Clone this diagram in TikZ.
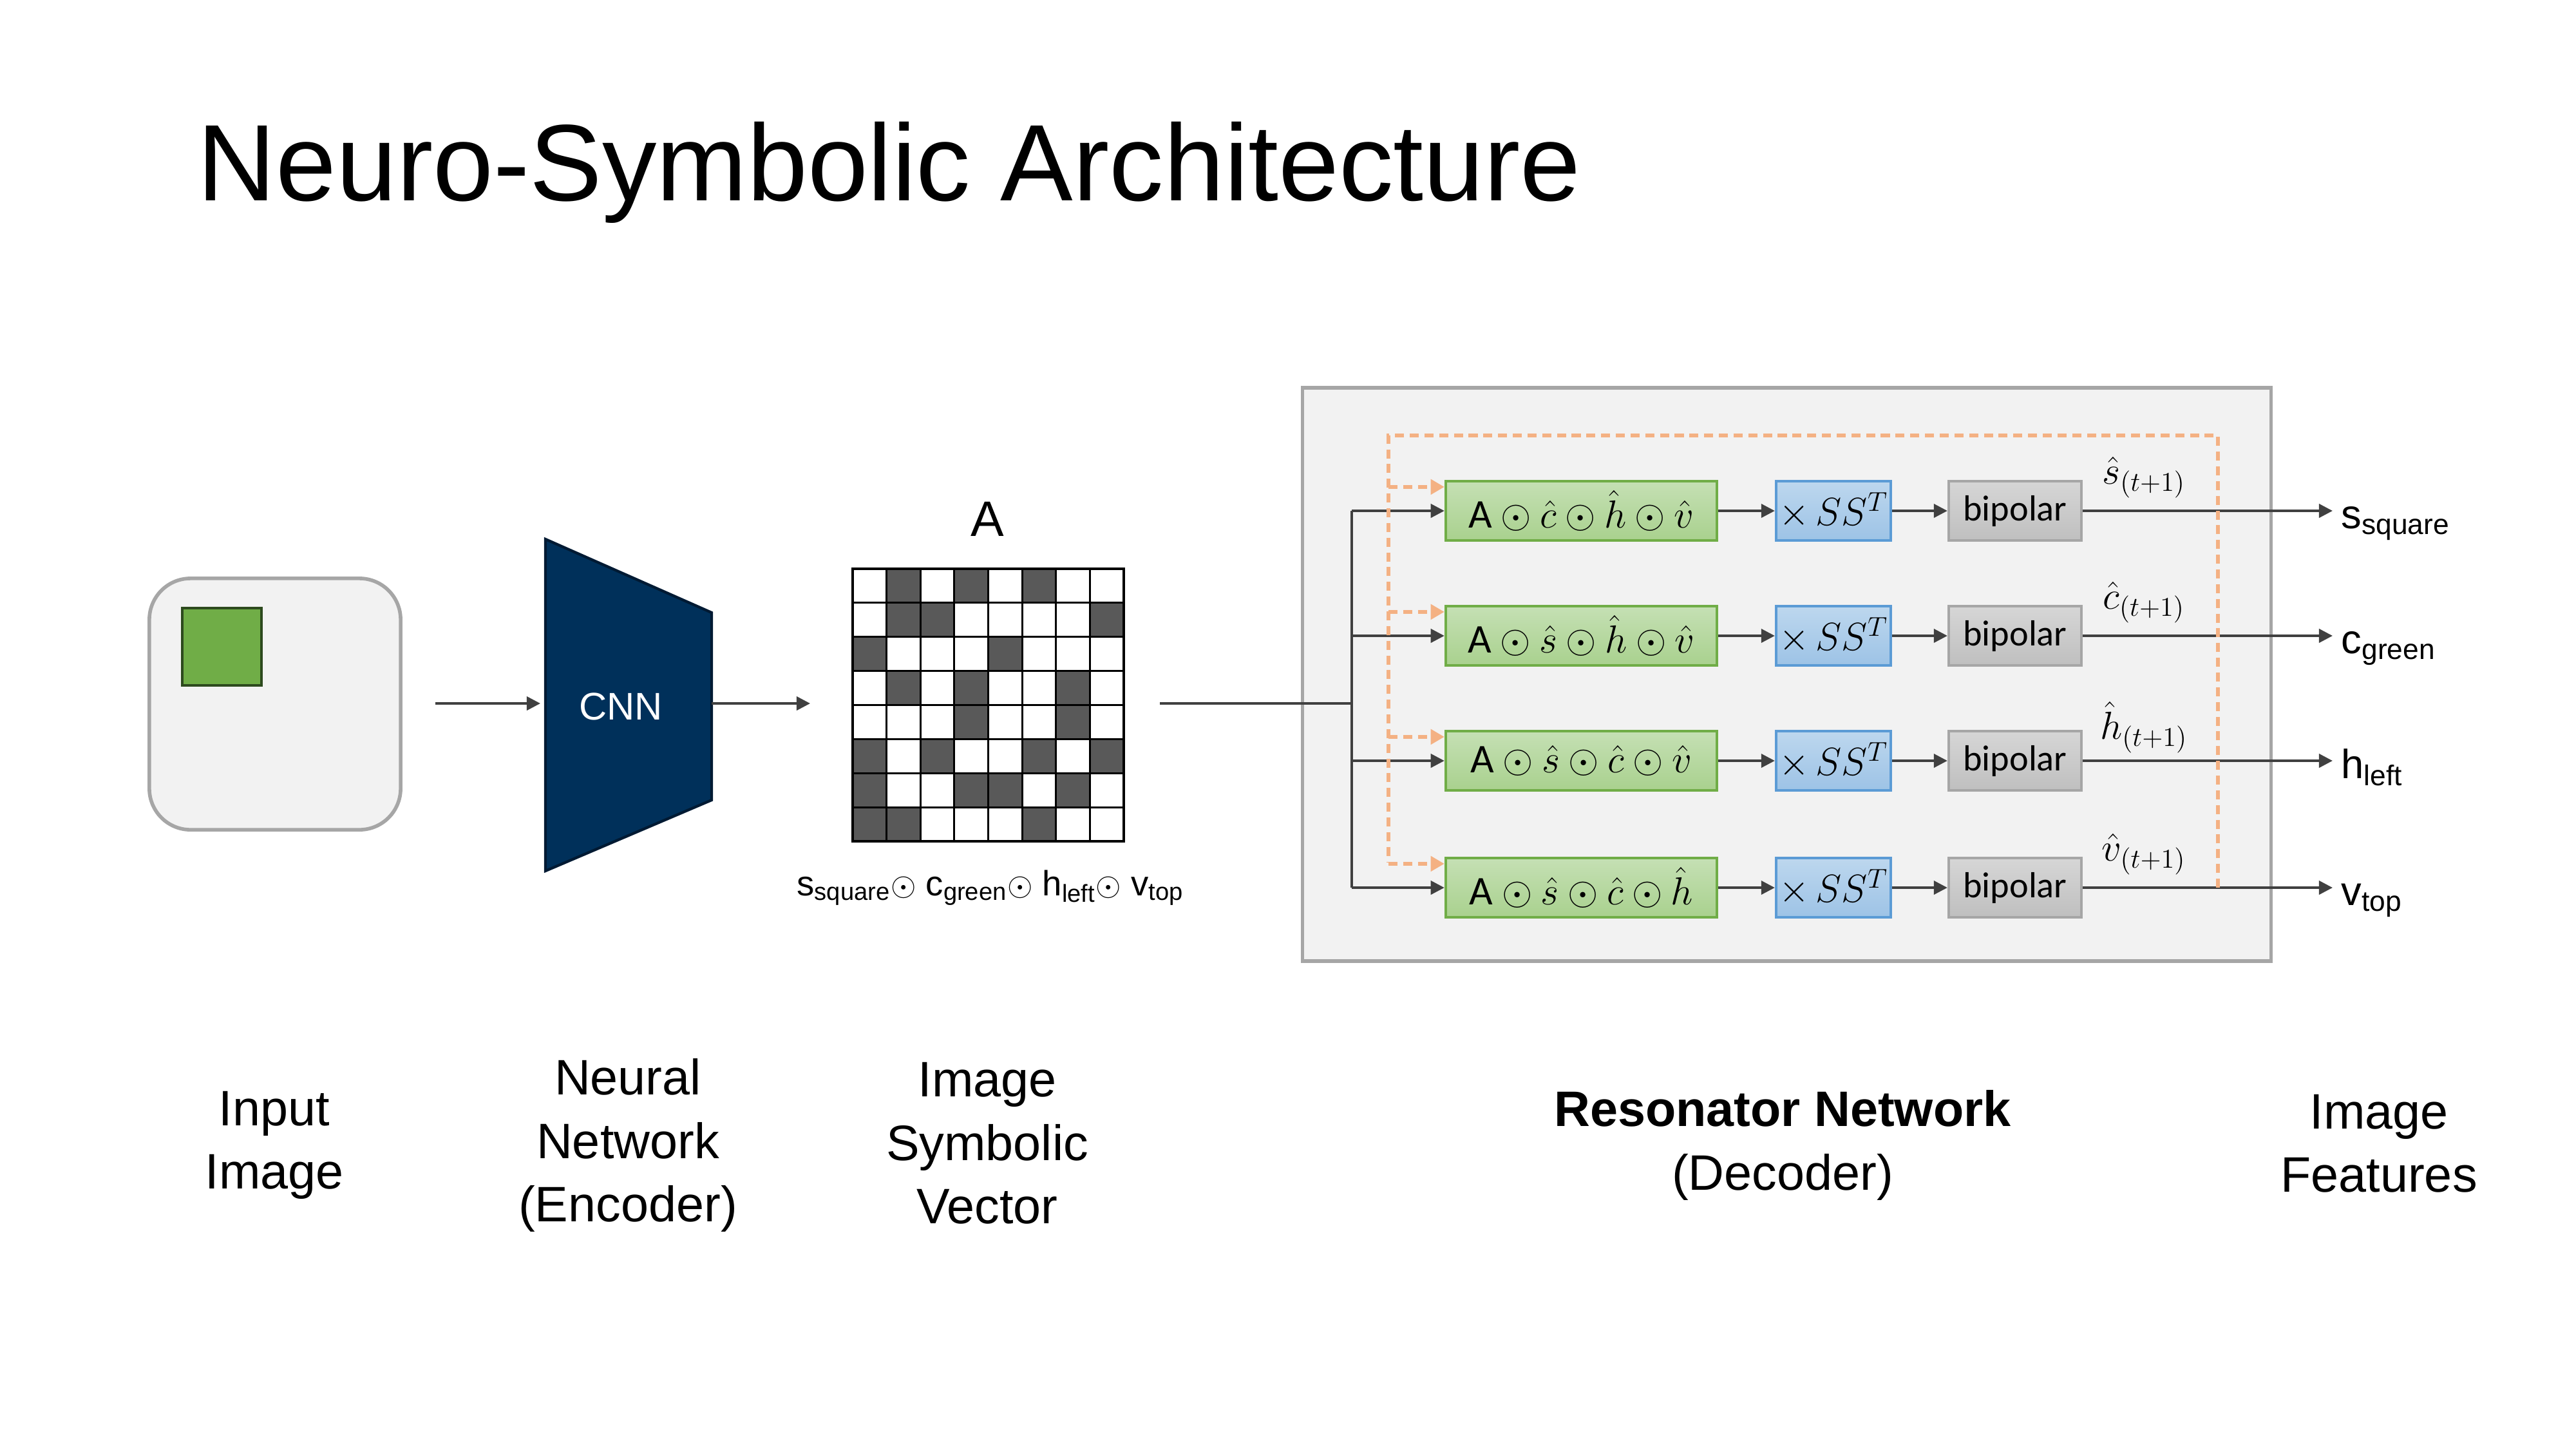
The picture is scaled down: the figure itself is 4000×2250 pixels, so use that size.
\documentclass[tikz,border=0pt]{standalone}
\usepackage{fontspec}
\setmainfont{Liberation Sans}
\newfontfamily\calfont{Carlito}
\usetikzlibrary{arrows.meta,shapes.geometric}
\definecolor{panel}{HTML}{F2F2F2}
\definecolor{panelline}{HTML}{A6A6A6}
\definecolor{arrowc}{HTML}{404040}
\definecolor{sqgreen}{HTML}{70AD47}
\definecolor{sqdark}{HTML}{2D4A1E}
\definecolor{cnnblue}{HTML}{00305A}
\definecolor{cnnline}{HTML}{001A33}
\definecolor{cellgray}{HTML}{595959}
\definecolor{gtop}{HTML}{C5E0B4}
\definecolor{gbot}{HTML}{A9D18E}
\definecolor{gline}{HTML}{70AD47}
\definecolor{btop}{HTML}{BDD7EE}
\definecolor{bbot}{HTML}{9DC3E6}
\definecolor{bline}{HTML}{5B9BD5}
\definecolor{ptop}{HTML}{D6D6D6}
\definecolor{pbot}{HTML}{BFBFBF}
\definecolor{orangec}{HTML}{F4B183}
\begin{document}
\begin{tikzpicture}[x=0.01cm,y=-0.01cm,
  arr/.style={draw=arrowc,line width=1.1pt,-{Triangle[length=6pt,width=6pt]}},
  plainline/.style={draw=arrowc,line width=1.1pt},
  fb/.style={draw=orangec,line width=1.5pt,dash pattern=on 4pt off 2.5pt},
  fbarr/.style={fb,-{Triangle[length=6pt,width=6.5pt,fill=orangec]}},
  gbox/.style={draw=gline,line width=1.2pt,top color=gtop,bottom color=gbot,minimum width=4.21cm,minimum height=0.92cm,inner sep=0pt,font=\fontsize{18}{20}\selectfont},
  bbox/.style={draw=bline,line width=1.2pt,top color=btop,bottom color=bbot,minimum width=1.78cm,minimum height=0.92cm,inner sep=0pt,font=\fontsize{17}{19}\selectfont},
  pbox/.style={draw=panelline,line width=1.2pt,top color=ptop,bottom color=pbot,minimum width=2.06cm,minimum height=0.92cm,inner sep=0pt,font=\calfont\fontsize{16}{18}\selectfont},
  hatlbl/.style={font=\fontsize{18}{20}\selectfont,inner sep=0pt},
  outlbl/.style={anchor=base west,font=\fontsize{18}{22}\selectfont,inner sep=0pt},
  botlbl/.style={align=center,font=\fontsize{22}{28}\selectfont}
]
\useasboundingbox (0,0) rectangle (4000,2250);
\fill[white] (0,0) rectangle (4000,2250);

% title
\node[anchor=base west,inner sep=0pt,font=\fontsize{48}{56}\selectfont] (title) at (306,311) {Neuro-Symbolic Architecture};

% input image
\node[draw=panelline,fill=panel,line width=1.6pt,rounded corners=0.64cm,minimum width=3.9cm,minimum height=3.9cm] (inimg) at (427,1093) {};
\node[draw=sqdark,fill=sqgreen,line width=1.3pt,minimum width=1.23cm,minimum height=1.2cm,inner sep=0pt] (sq) at (344.5,1004) {};

% CNN trapezoid
\coordinate (c1) at (847,837);
\coordinate (c2) at (1105,951);
\coordinate (c3) at (1105,1242);
\coordinate (c4) at (847,1352);
\draw[draw=cnnline,fill=cnnblue,line width=1.2pt] (c1) -- (c2) -- (c3) -- (c4) -- cycle;
\node[text=white,font=\fontsize{17}{20}\selectfont] (cnn) at (964,1097) {CNN};

\coordinate (a1s) at (676,1092);
\coordinate (a1e) at (839,1092);
\draw[arr] (a1s) -- (a1e);
\coordinate (a2s) at (1105,1092);
\coordinate (a2e) at (1258,1092);
\draw[arr] (a2s) -- (a2e);

% grid
\foreach \c/\r in {1/0,3/0,5/0, 1/1,2/1,7/1, 0/2,4/2, 1/3,3/3,6/3, 3/4,6/4, 0/5,2/5,5/5,7/5, 0/6,3/6,4/6,6/6, 0/7,1/7,5/7}
  \fill[cellgray] ({1324+52.625*\c},{883+52.875*\r}) rectangle ++(52.625,52.875);
\foreach \i in {1,...,7} {
  \draw[line width=0.9pt] ({1324+52.625*\i},883) -- ({1324+52.625*\i},1306);
  \draw[line width=0.9pt] (1324,{883+52.875*\i}) -- (1745,{883+52.875*\i});
}
\node[draw,line width=1.3pt,minimum width=4.21cm,minimum height=4.23cm,inner sep=0pt] (grid) at (1534.5,1094.5) {};
\node[anchor=base,font=\fontsize{22}{26}\selectfont,inner sep=0pt] (albl) at (1533,832) {A};
\node[anchor=base,font=\fontsize{15.5}{18}\selectfont,inner sep=0pt] (glbl) at (1538,1390)
  {s\textsubscript{square}$\odot$ c\textsubscript{green}$\odot$ h\textsubscript{left}$\odot$ v\textsubscript{top}};

% resonator panel
\node[draw=panelline,fill=panel,line width=1.6pt,minimum width=15.03cm,minimum height=8.9cm,inner sep=0pt] (res) at (2774.5,1047) {};

\coordinate (gs) at (1801,1092);
\coordinate (split) at (2099,1092);
\draw[plainline] (gs) -- (split);

\foreach \i/\y/\t/\h in {1/793/{\hat{c}\odot\hat{h}\odot\hat{v}}/{\hat{s}},
                         2/987/{\hat{s}\odot\hat{h}\odot\hat{v}}/{\hat{c}},
                         3/1181/{\hat{s}\odot\hat{c}\odot\hat{v}}/{\hat{h}},
                         4/1378/{\hat{s}\odot\hat{c}\odot\hat{h}}/{\hat{v}}} {
  \node[gbox] (g\i) at (2455.5,\y) {{\calfont A}$\mathord{}\odot\t$};
  \node[bbox] (b\i) at (2847,\y) {$\times\,SS^{T}$};
  \node[pbox] (p\i) at (3129,\y) {bipolar};
  \node[hatlbl] (h\i) at (3329,{\y-52}) {$\h_{(t+1)}$};
  \coordinate (e\i) at (3622,\y);
  \draw[arr] (split |- g\i.west) -- (g\i.west);
  \draw[arr] (g\i.east) -- (b\i.west);
  \draw[arr] (b\i.east) -- (p\i.west);
  \draw[arr] (p\i.east) -- (e\i);
}
\draw[plainline] (split |- g1.west) -- (split |- g4.west);

\node[outlbl] (o1) at (3635,820) {s\textsubscript{square}};
\node[outlbl] (o2) at (3635,1014) {c\textsubscript{green}};
\node[outlbl] (o3) at (3635,1208) {h\textsubscript{left}};
\node[outlbl] (o4) at (3635,1405) {v\textsubscript{top}};

% feedback loop
\coordinate (fr) at (3444,1378);
\coordinate (frt) at (3444,676);
\coordinate (flt) at (2156,676);
\coordinate (flb) at (2156,1339);
\draw[fb] (fr) -- (frt) -- (flt) -- (flb);
\foreach \i in {1,2,3,4} {
  \coordinate (fa\i) at ([yshift=-0.11cm]g\i.north west);
  \draw[fbarr] (flt |- fa\i) -- (fa\i);
}

% bottom labels
\node[botlbl] (l1) at (426,1778) {Input\\Image};
\node[botlbl] (l2) at (975,1778) {Neural\\Network\\(Encoder)};
\node[botlbl] (l3) at (1533,1775) {Image\\Symbolic\\Vector};
\node[botlbl] (l4) at (2768,1778) {\textbf{Resonator Network}\\(Decoder)};
\node[botlbl] (l5) at (3694,1775) {Image\\Features};
\end{tikzpicture}
\end{document}
